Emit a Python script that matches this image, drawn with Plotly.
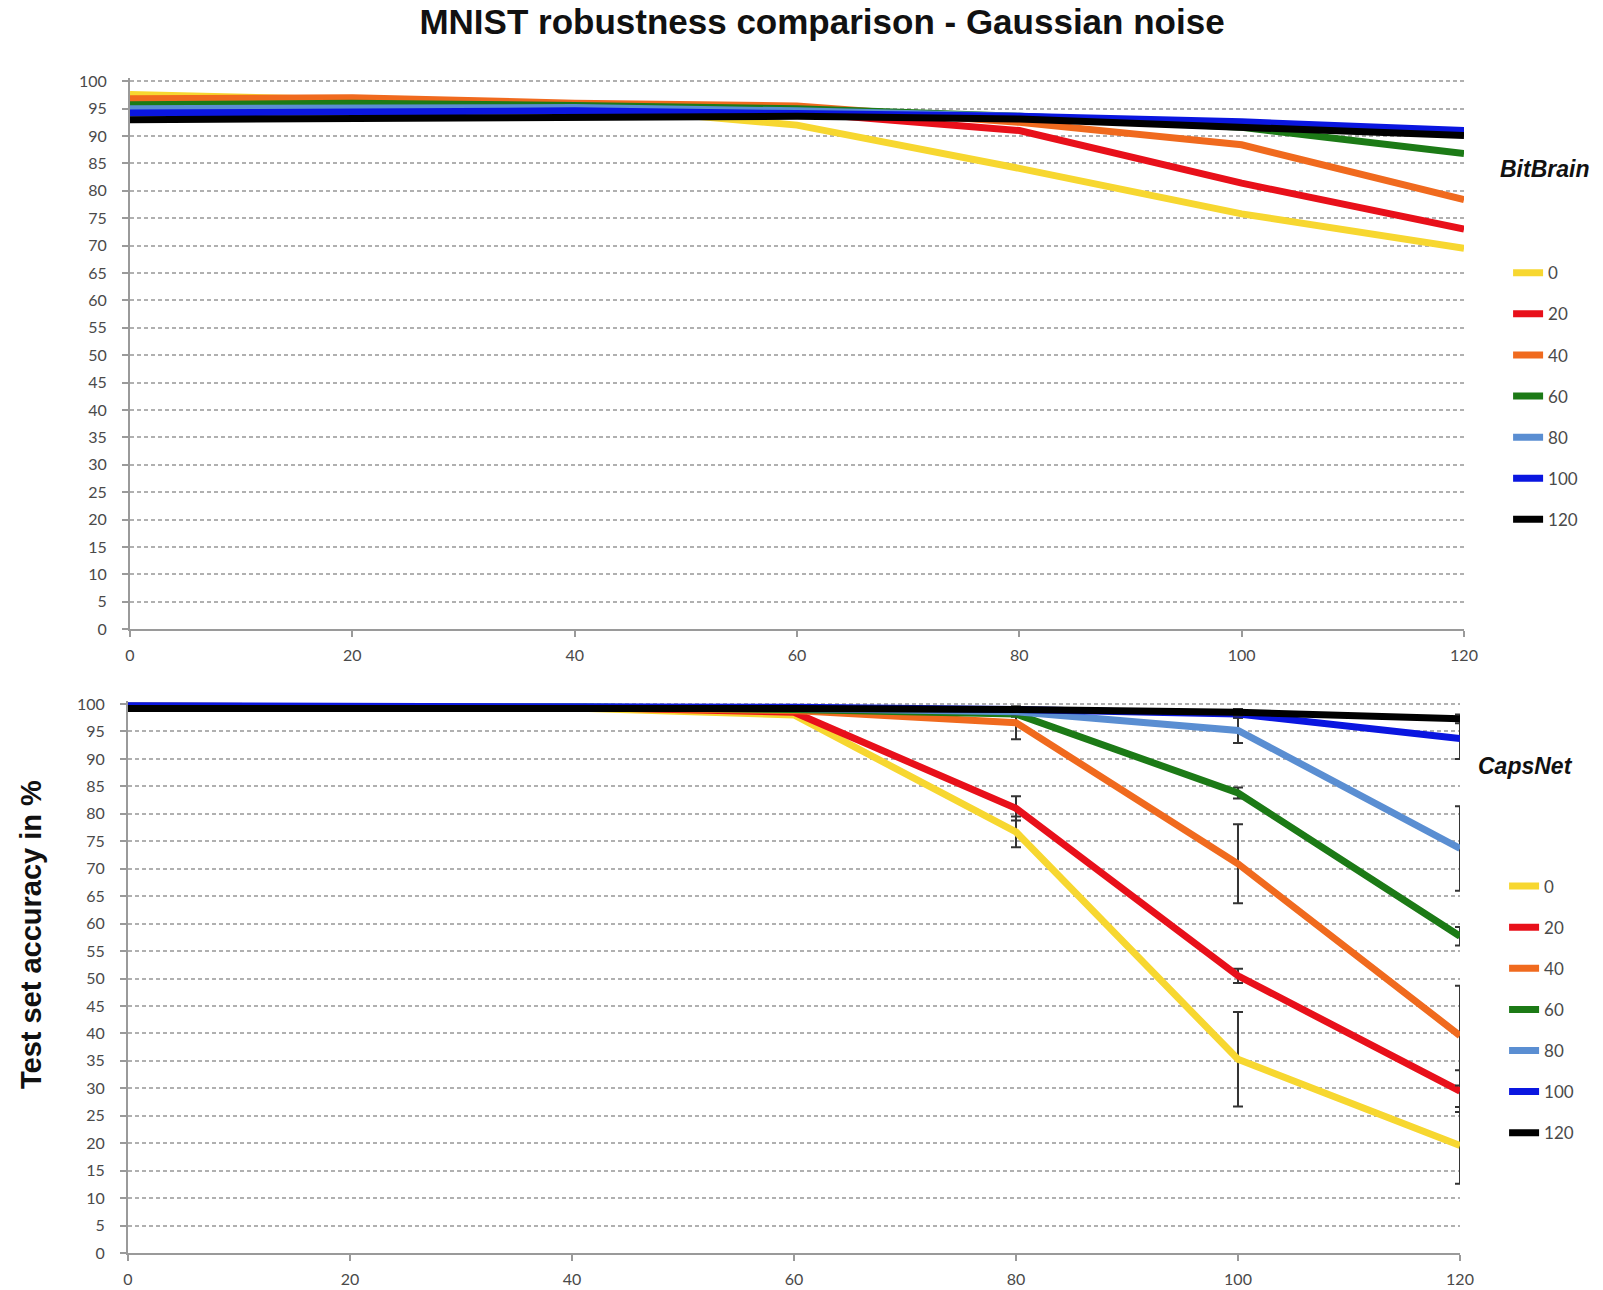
import plotly.graph_objects as go

noise_x = [0, 20, 40, 60, 80, 100, 120]
series_names = ["0", "20", "40", "60", "80", "100", "120"]
colors = ["#F7D730", "#E8101A", "#F06A1E", "#1C7A16", "#5A8ED2", "#0A16E0", "#000000"]

# BitBrain (top)
bb_0 = [97.6, 96.6, 95.6, 92.0, 84.1, 75.8, 69.5]
bb_20 = [96.6, 96.8, 95.8, 94.3, 91.0, 81.4, 73.0]
bb_40 = [96.8, 97.0, 96.0, 95.5, 92.5, 88.4, 78.4]
bb_60 = [95.7, 96.0, 95.6, 95.0, 93.6, 91.6, 86.8]
bb_80 = [95.0, 95.2, 95.2, 94.6, 93.6, 92.0, 90.6]
bb_100 = [94.2, 94.5, 94.6, 94.1, 93.6, 92.6, 91.0]
bb_120 = [93.0, 93.2, 93.6, 93.6, 93.1, 91.6, 90.1]

# CapsNet (bottom)
cn_0 = [99.5, 99.5, 99.3, 98.0, 76.7, 35.3, 19.6]
cn_20 = [99.6, 99.6, 99.4, 98.5, 81.0, 50.5, 29.5]
cn_40 = [99.6, 99.6, 99.4, 98.8, 96.6, 70.9, 39.6]
cn_60 = [99.6, 99.6, 99.5, 99.0, 98.2, 83.8, 57.7]
cn_80 = [99.6, 99.6, 99.5, 99.2, 98.6, 95.2, 73.7]
cn_100 = [99.7, 99.7, 99.6, 99.4, 99.0, 98.2, 93.7]
cn_120 = [99.2, 99.3, 99.3, 99.2, 99.0, 98.5, 97.3]

# CapsNet error bars
cn_err_0 = [0, 0, 0, 0, 2.8, 8.6, 7.0]
cn_err_20 = [0, 0, 0, 0, 2.2, 1.3, 3.8]
cn_err_40 = [0, 0, 0, 0, 3.0, 7.2, 9.1]
cn_err_60 = [0, 0, 0, 0, 0.5, 1.0, 1.7]
cn_err_80 = [0, 0, 0, 0, 0.5, 2.3, 7.7]
cn_err_100 = [0, 0, 0, 0, 0.3, 0.7, 3.7]
cn_err_120 = [0, 0, 0, 0, 0.3, 0.6, 0.8]

x_ticks = [0, 20, 40, 60, 80, 100, 120]
y_ticks = list(range(0, 101, 5))

bitbrain = [bb_0, bb_20, bb_40, bb_60, bb_80, bb_100, bb_120]
capsnet = [cn_0, cn_20, cn_40, cn_60, cn_80, cn_100, cn_120]
capsnet_err = [cn_err_0, cn_err_20, cn_err_40, cn_err_60, cn_err_80, cn_err_100, cn_err_120]

fig = go.Figure()
LW = 7
for name, col, ys in zip(series_names, colors, bitbrain):
    fig.add_trace(go.Scatter(
        x=noise_x, y=ys, mode="lines", name=name,
        line=dict(color=col, width=LW), cliponaxis=False,
        xaxis="x", yaxis="y", legend="legend", legendgroup="bb" + name,
    ))
for name, col, ys, es in zip(series_names, colors, capsnet, capsnet_err):
    fig.add_trace(go.Scatter(
        x=noise_x, y=ys, mode="lines", name=name,
        line=dict(color=col, width=LW), cliponaxis=False,
        error_y=dict(type="data", array=es, visible=True, color="#333333", thickness=2, width=5),
        xaxis="x2", yaxis="y2", legend="legend2", legendgroup="cn" + name,
    ))

tickfont = dict(family="Lato", size=16, color="#4a4a4a")
axis_common = dict(
    showline=True, linecolor="#9a9a9a", linewidth=2,
    ticks="outside", ticklen=6, tickcolor="#9a9a9a", tickwidth=2,
    tickfont=tickfont, zeroline=False, automargin=False,
)
xaxis_common = dict(axis_common, range=[0, 120], tickvals=x_ticks, showgrid=False,
                    ticklabelstandoff=5)
yaxis_common = dict(axis_common, range=[0, 100.6], tickvals=y_ticks, ticklabelstandoff=12,
                    showgrid=True, gridcolor="#b0b0b0", gridwidth=1.5, griddash="4px,3px")

legend_common = dict(
    font=dict(family="Lato", size=17, color="#4a4a4a"),
    bgcolor="rgba(0,0,0,0)", tracegroupgap=16, xanchor="left", yanchor="top",
    itemwidth=30,
)

fig.update_layout(
    width=1603, height=1290,
    margin=dict(l=128, r=139, t=78, b=37, autoexpand=False),
    paper_bgcolor="white", plot_bgcolor="white",
    title=dict(text="<b>MNIST robustness comparison - Gaussian noise</b>",
               font=dict(family="Liberation Sans", size=35, color="#111111"),
               x=0.5128, xanchor="center", y=0.9928, yanchor="top", xref="container", yref="container"),
    xaxis=dict(xaxis_common, domain=[0.0015, 1.0], anchor="y"),
    yaxis=dict(yaxis_common, domain=[0.531, 1.0], anchor="x"),
    xaxis2=dict(xaxis_common, domain=[0.0, 0.997], anchor="y2"),
    yaxis2=dict(yaxis_common, domain=[0.0, 0.470], anchor="x2"),
    legend=dict(legend_common, x=1.033, y=0.8492),
    legend2=dict(legend_common, x=1.030, y=0.3272),
    annotations=[
        dict(text="<b><i>BitBrain</i></b>", x=1.0606, y=0.9226, xref="paper", yref="paper",
             xanchor="center", yanchor="middle",
             showarrow=False, font=dict(family="Liberation Sans", size=23, color="#111111")),
        dict(text="<b><i>CapsNet</i></b>", x=1.0464, y=0.4145, xref="paper", yref="paper",
             xanchor="center", yanchor="middle",
             showarrow=False, font=dict(family="Liberation Sans", size=23, color="#111111")),
        dict(text="<b>Test set accuracy in %</b>", x=-0.0726, y=0.2706, xref="paper", yref="paper",
             xanchor="center", yanchor="middle", textangle=-90, showarrow=False,
             font=dict(family="Liberation Sans", size=29, color="#111111")),
    ],
)

fig.write_html(
    "out.html",
    config={"displayModeBar": False},
    post_script="document.body.style.margin='0';document.body.style.overflow='hidden';",
)
